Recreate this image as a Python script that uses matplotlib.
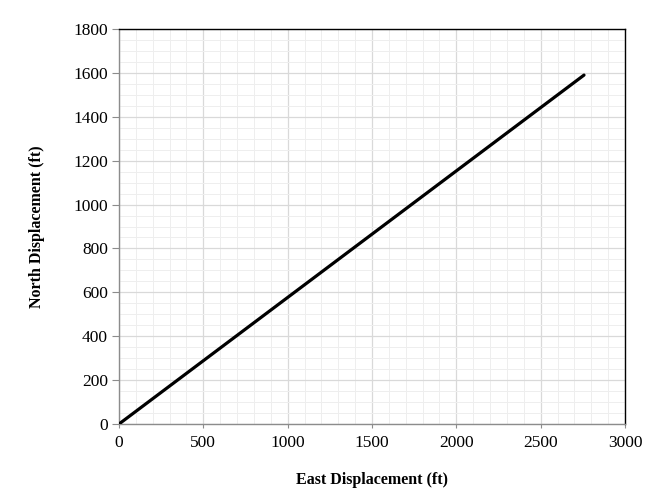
import matplotlib
matplotlib.use("Agg")
import matplotlib.pyplot as plt
from matplotlib.ticker import MultipleLocator

east = [0, 2757]
north = [0, 1590]

plt.rcParams['font.family'] = ['Liberation Serif', 'DejaVu Serif']

fig = plt.figure(figsize=(6.71, 4.93), dpi=100)
ax = fig.add_axes([119/671, 1 - 424/493, (625-119)/671, (424-29)/493])

ax.plot(east, north, color='black', lw=2.3, solid_capstyle='round', zorder=3)

ax.set_xlim(0, 3000)
ax.set_ylim(0, 1800)
ax.xaxis.set_major_locator(MultipleLocator(500))
ax.xaxis.set_minor_locator(MultipleLocator(100))
ax.yaxis.set_major_locator(MultipleLocator(200))
ax.yaxis.set_minor_locator(MultipleLocator(50))

ax.grid(which='major', color='#d9d9d9', lw=0.9, zorder=0)
ax.grid(which='minor', color='#eeeeee', lw=0.7, zorder=0)
ax.set_axisbelow(True)

for s in ['left', 'bottom']:
    ax.spines[s].set_color('#8c8c8c')
    ax.spines[s].set_linewidth(1.0)
for s in ['top', 'right']:
    ax.spines[s].set_color('black')
    ax.spines[s].set_linewidth(1.0)

ax.tick_params(axis='y', which='major', length=5, color='#8c8c8c', labelsize=12.5, pad=3)
ax.tick_params(axis='x', which='major', length=3, color='#8c8c8c', labelsize=12.5, pad=5)
ax.tick_params(which='minor', length=0)

ax.set_xlabel('East Displacement (ft)', fontsize=11.5, fontweight='bold', labelpad=15)
ax.set_ylabel('North Displacement (ft)', fontsize=11.5, fontweight='bold', labelpad=20)

fig.savefig('out.png', dpi=100)
